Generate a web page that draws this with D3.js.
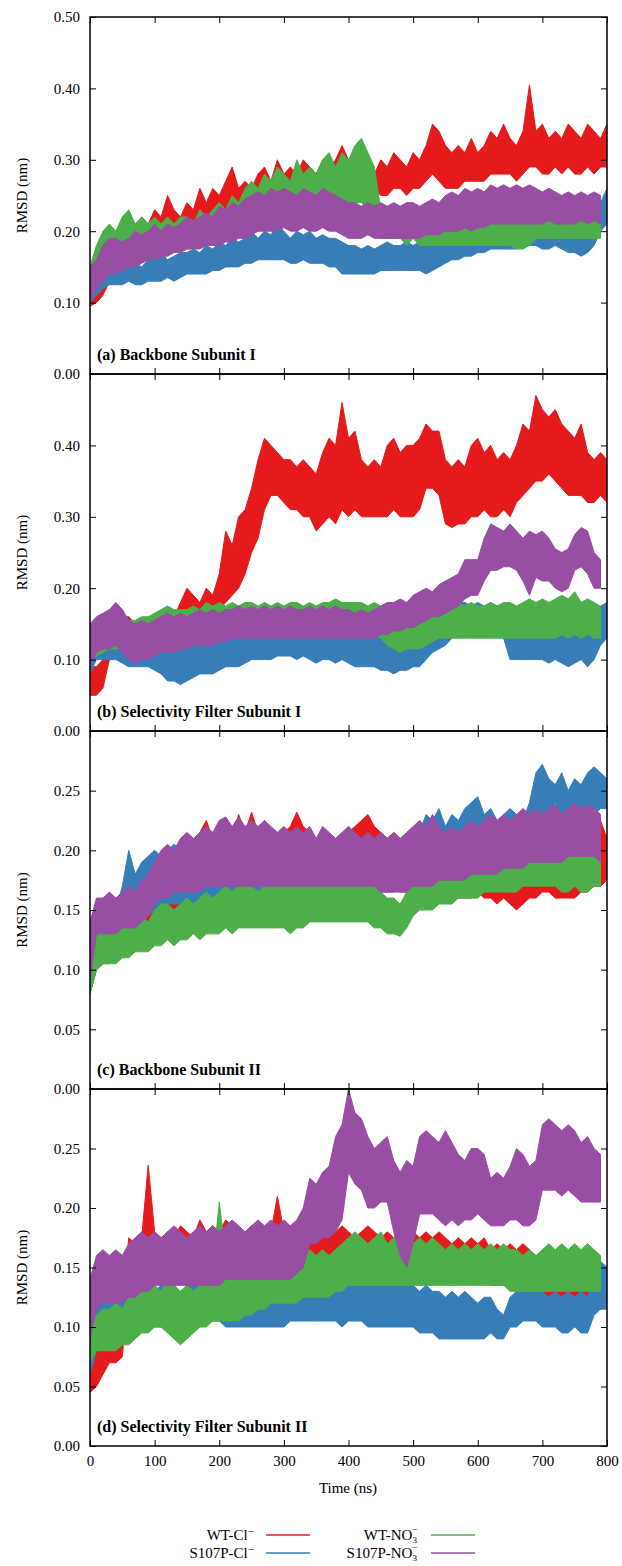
<!DOCTYPE html>
<html>
<head>
<meta charset="utf-8">
<script src="https://cdn.jsdelivr.net/npm/d3@7"></script>
<style>
  body { margin: 0; background: #fff; }
  svg { display: block; }
  svg text { font-family: "Liberation Serif", "Times New Roman", "DejaVu Serif", serif !important; }
</style>
</head>
<body>
<div id="chart"></div>
<script>
const step = 10;
const xTicks = [0, 100, 200, 300, 400, 500, 600, 700, 800];
const yTicksWide = [0, 0.1, 0.2, 0.3, 0.4, 0.5];
const yTicksNarrow = [0, 0.05, 0.1, 0.15, 0.2, 0.25, 0.3];
const seriesNames = ["WT-Cl", "S107P-Cl", "WT-NO", "S107P-NO"];
const panelTitles = ["(a) Backbone Subunit I", "(b) Selectivity Filter Subunit I",
                     "(c) Backbone Subunit II", "(d) Selectivity Filter Subunit II"];

// (a) Backbone Subunit I
const a_wtCl_hi = [0.14,0.15,0.16,0.17,0.19,0.20,0.21,0.20,0.22,0.21, 0.23,0.22,0.25,0.23,0.22,0.24,0.23,0.26,0.24,0.26, 0.25,0.27,0.29,0.26,0.27,0.26,0.28,0.29,0.27,0.30, 0.28,0.29,0.28,0.30,0.29,0.28,0.30,0.29,0.30,0.32, 0.30,0.29,0.30,0.29,0.28,0.30,0.29,0.31,0.30,0.29, 0.31,0.30,0.32,0.35,0.34,0.32,0.31,0.32,0.31,0.33, 0.31,0.32,0.34,0.33,0.35,0.33,0.32,0.34,0.405,0.34, 0.35,0.33,0.34,0.33,0.35,0.34,0.33,0.35,0.34,0.33, 0.35];
const a_wtCl_lo = [0.095,0.10,0.11,0.13,0.14,0.15,0.16,0.17,0.17,0.18, 0.18,0.19,0.19,0.20,0.19,0.20,0.20,0.21,0.20,0.21, 0.22,0.22,0.23,0.22,0.23,0.23,0.24,0.24,0.24,0.25, 0.25,0.25,0.25,0.26,0.25,0.25,0.26,0.25,0.26,0.26, 0.26,0.25,0.25,0.25,0.26,0.25,0.25,0.26,0.26,0.25, 0.26,0.26,0.27,0.28,0.27,0.26,0.26,0.26,0.27,0.27, 0.27,0.27,0.28,0.28,0.28,0.28,0.27,0.28,0.29,0.29, 0.28,0.28,0.29,0.28,0.29,0.28,0.28,0.29,0.28,0.29, 0.29];
const a_s107pCl_hi = [0.13,0.15,0.16,0.16,0.16,0.155,0.16,0.155,0.15,0.16, 0.16,0.17,0.16,0.165,0.17,0.17,0.175,0.17,0.18,0.175, 0.185,0.18,0.19,0.185,0.19,0.20,0.19,0.20,0.195,0.21, 0.20,0.19,0.20,0.195,0.20,0.19,0.195,0.19,0.19,0.185, 0.18,0.18,0.175,0.18,0.175,0.18,0.185,0.18,0.18,0.185, 0.18,0.185,0.19,0.185,0.19,0.19,0.20,0.195,0.20,0.205, 0.21,0.215,0.21,0.22,0.215,0.21,0.215,0.22,0.22,0.225, 0.22,0.22,0.225,0.22,0.215,0.21,0.21,0.215,0.22,0.24, 0.26];
const a_s107pCl_lo = [0.10,0.11,0.12,0.125,0.125,0.125,0.13,0.125,0.125,0.13, 0.13,0.13,0.135,0.13,0.135,0.14,0.14,0.14,0.14,0.145, 0.145,0.15,0.15,0.15,0.155,0.155,0.16,0.16,0.16,0.16, 0.16,0.155,0.155,0.16,0.155,0.155,0.155,0.15,0.15,0.14, 0.14,0.14,0.14,0.14,0.14,0.145,0.145,0.145,0.145,0.145, 0.145,0.145,0.14,0.145,0.15,0.155,0.16,0.16,0.165,0.165, 0.17,0.17,0.175,0.175,0.175,0.175,0.175,0.18,0.18,0.18, 0.175,0.175,0.18,0.175,0.17,0.17,0.165,0.17,0.18,0.20, 0.21];
const a_wtNO3_hi = [0.15,0.18,0.20,0.21,0.20,0.22,0.23,0.21,0.22,0.21, 0.22,0.21,0.22,0.21,0.22,0.22,0.21,0.23,0.22,0.23, 0.24,0.23,0.25,0.24,0.26,0.27,0.26,0.28,0.27,0.29, 0.28,0.27,0.30,0.28,0.29,0.28,0.30,0.31,0.29,0.31, 0.30,0.32,0.33,0.31,0.29,0.23,0.22,0.23,0.22,0.22, 0.23,0.22,0.22,0.23,0.21,0.22,0.22,0.21,0.22,0.23, 0.22,0.23,0.22,0.22,0.23,0.22,0.22,0.21,0.23,0.24, 0.23,0.24,0.23,0.24,0.23,0.24,0.23,0.24,0.23,0.22];
const a_wtNO3_lo = [0.12,0.14,0.16,0.17,0.17,0.18,0.18,0.18,0.18,0.18, 0.18,0.18,0.19,0.19,0.19,0.19,0.19,0.19,0.19,0.19, 0.19,0.20,0.20,0.20,0.21,0.21,0.21,0.22,0.22,0.22, 0.22,0.22,0.23,0.23,0.23,0.24,0.24,0.24,0.24,0.24, 0.23,0.24,0.24,0.23,0.22,0.19,0.19,0.19,0.19,0.18, 0.19,0.18,0.18,0.18,0.18,0.18,0.18,0.18,0.18,0.18, 0.18,0.18,0.18,0.18,0.18,0.18,0.175,0.175,0.18,0.19, 0.19,0.19,0.19,0.19,0.19,0.19,0.19,0.19,0.19,0.19];
const a_s107pNO3_hi = [0.15,0.16,0.18,0.19,0.19,0.185,0.19,0.20,0.195,0.20, 0.21,0.20,0.21,0.205,0.21,0.22,0.215,0.22,0.225,0.22, 0.235,0.23,0.24,0.235,0.245,0.25,0.255,0.25,0.26,0.255, 0.26,0.255,0.25,0.26,0.255,0.25,0.26,0.255,0.25,0.245, 0.24,0.24,0.235,0.24,0.235,0.24,0.235,0.24,0.235,0.24, 0.24,0.235,0.24,0.245,0.24,0.25,0.255,0.25,0.26,0.255, 0.26,0.255,0.265,0.26,0.265,0.26,0.265,0.26,0.265,0.26, 0.255,0.26,0.255,0.25,0.255,0.25,0.255,0.25,0.255,0.25];
const a_s107pNO3_lo = [0.10,0.12,0.13,0.14,0.14,0.145,0.15,0.15,0.155,0.16, 0.16,0.165,0.165,0.17,0.17,0.175,0.175,0.175,0.18,0.18, 0.18,0.185,0.185,0.19,0.19,0.195,0.20,0.20,0.20,0.20, 0.205,0.20,0.20,0.205,0.20,0.20,0.205,0.20,0.20,0.195, 0.19,0.19,0.19,0.195,0.19,0.19,0.19,0.19,0.19,0.19, 0.19,0.19,0.195,0.195,0.195,0.20,0.20,0.20,0.205,0.20, 0.205,0.205,0.21,0.21,0.21,0.21,0.21,0.21,0.21,0.21, 0.21,0.215,0.21,0.21,0.21,0.21,0.215,0.21,0.215,0.21];

// (b) Selectivity Filter Subunit I
const b_wtCl_hi = [0.09,0.09,0.10,0.13,0.15,0.16,0.16,0.15,0.15,0.15, 0.15,0.15,0.15,0.16,0.18,0.20,0.19,0.18,0.20,0.19, 0.22,0.28,0.26,0.30,0.31,0.34,0.38,0.41,0.40,0.39, 0.38,0.38,0.37,0.38,0.37,0.36,0.39,0.41,0.40,0.46, 0.41,0.42,0.38,0.37,0.38,0.37,0.40,0.41,0.39,0.40, 0.40,0.41,0.43,0.42,0.42,0.38,0.37,0.38,0.37,0.40, 0.41,0.39,0.40,0.38,0.39,0.38,0.40,0.43,0.42,0.47, 0.45,0.44,0.45,0.43,0.42,0.41,0.43,0.39,0.38,0.39, 0.38];
const b_wtCl_lo = [0.05,0.05,0.06,0.10,0.12,0.12,0.12,0.12,0.12,0.12, 0.12,0.12,0.12,0.13,0.15,0.16,0.16,0.16,0.16,0.16, 0.17,0.18,0.19,0.20,0.22,0.25,0.27,0.31,0.33,0.33, 0.32,0.31,0.31,0.30,0.30,0.28,0.29,0.30,0.29,0.31, 0.30,0.31,0.30,0.30,0.30,0.30,0.30,0.31,0.30,0.30, 0.30,0.31,0.34,0.34,0.33,0.29,0.285,0.29,0.29,0.30, 0.30,0.31,0.30,0.30,0.31,0.30,0.32,0.33,0.34,0.35, 0.35,0.36,0.35,0.34,0.33,0.33,0.33,0.32,0.32,0.33, 0.32];
const b_s107pCl_hi = [0.14,0.15,0.15,0.15,0.16,0.14,0.135,0.135,0.13,0.13, 0.13,0.125,0.12,0.115,0.12,0.115,0.12,0.125,0.13,0.125, 0.13,0.135,0.14,0.14,0.145,0.145,0.15,0.15,0.155,0.16, 0.17,0.16,0.16,0.16,0.155,0.16,0.165,0.16,0.165,0.16, 0.14,0.135,0.135,0.14,0.135,0.13,0.13,0.13,0.125,0.13, 0.135,0.14,0.15,0.16,0.165,0.17,0.175,0.18,0.18,0.175, 0.18,0.175,0.18,0.175,0.17,0.14,0.135,0.14,0.145,0.14, 0.145,0.15,0.145,0.15,0.155,0.15,0.155,0.16,0.165,0.175, 0.18];
const b_s107pCl_lo = [0.08,0.10,0.10,0.10,0.10,0.095,0.09,0.09,0.09,0.09, 0.085,0.08,0.07,0.07,0.065,0.07,0.075,0.08,0.08,0.08, 0.085,0.09,0.09,0.09,0.095,0.10,0.10,0.10,0.10,0.105, 0.105,0.105,0.10,0.105,0.10,0.095,0.10,0.10,0.095,0.10, 0.095,0.09,0.09,0.09,0.09,0.085,0.085,0.08,0.085,0.085, 0.09,0.09,0.10,0.11,0.115,0.12,0.13,0.135,0.135,0.14, 0.14,0.135,0.14,0.14,0.13,0.10,0.10,0.10,0.10,0.10, 0.10,0.095,0.10,0.095,0.09,0.095,0.10,0.09,0.10,0.12, 0.13];
const b_wtNO3_hi = [0.14,0.15,0.155,0.16,0.155,0.16,0.155,0.155,0.16,0.16, 0.165,0.17,0.175,0.17,0.17,0.17,0.175,0.17,0.18,0.175, 0.18,0.175,0.18,0.175,0.18,0.18,0.175,0.18,0.175,0.18, 0.175,0.18,0.18,0.175,0.18,0.175,0.18,0.18,0.185,0.18, 0.18,0.18,0.18,0.175,0.18,0.175,0.165,0.16,0.165,0.165, 0.17,0.17,0.175,0.17,0.18,0.175,0.18,0.18,0.175,0.18, 0.175,0.175,0.18,0.175,0.18,0.18,0.175,0.18,0.185,0.18, 0.185,0.18,0.185,0.19,0.185,0.195,0.18,0.185,0.18,0.175];
const b_wtNO3_lo = [0.10,0.105,0.11,0.115,0.115,0.115,0.115,0.115,0.115,0.12, 0.12,0.125,0.125,0.13,0.13,0.13,0.13,0.13,0.13,0.135, 0.135,0.135,0.14,0.14,0.14,0.14,0.14,0.14,0.14,0.14, 0.14,0.14,0.14,0.14,0.14,0.14,0.14,0.14,0.14,0.14, 0.135,0.135,0.135,0.135,0.135,0.13,0.12,0.115,0.11,0.115, 0.115,0.115,0.12,0.125,0.13,0.13,0.13,0.13,0.13,0.13, 0.13,0.13,0.13,0.13,0.13,0.13,0.13,0.13,0.13,0.13, 0.13,0.13,0.13,0.135,0.13,0.135,0.13,0.135,0.13,0.13];
const b_s107pNO3_hi = [0.15,0.16,0.165,0.17,0.18,0.17,0.155,0.15,0.155,0.15, 0.155,0.16,0.165,0.16,0.165,0.16,0.165,0.17,0.165,0.17, 0.165,0.17,0.17,0.175,0.17,0.175,0.17,0.175,0.17,0.175, 0.17,0.175,0.17,0.17,0.175,0.17,0.175,0.17,0.175,0.17, 0.17,0.165,0.17,0.165,0.17,0.175,0.18,0.18,0.185,0.18, 0.19,0.195,0.20,0.195,0.205,0.21,0.215,0.22,0.24,0.24, 0.24,0.27,0.29,0.285,0.28,0.29,0.28,0.27,0.28,0.275, 0.28,0.27,0.255,0.25,0.255,0.275,0.285,0.28,0.25,0.24];
const b_s107pNO3_lo = [0.09,0.11,0.115,0.115,0.12,0.11,0.10,0.095,0.10,0.10, 0.105,0.11,0.11,0.11,0.115,0.115,0.12,0.12,0.12,0.12, 0.125,0.125,0.13,0.13,0.13,0.13,0.13,0.13,0.13,0.13, 0.13,0.13,0.13,0.13,0.13,0.13,0.13,0.13,0.13,0.13, 0.13,0.13,0.13,0.13,0.13,0.135,0.135,0.14,0.14,0.145, 0.145,0.15,0.155,0.16,0.16,0.165,0.17,0.175,0.185,0.19, 0.19,0.21,0.225,0.225,0.23,0.23,0.225,0.21,0.19,0.215, 0.21,0.21,0.20,0.195,0.20,0.225,0.23,0.22,0.20,0.20];

// (c) Backbone Subunit II
const c_wtCl_hi = [0.12,0.13,0.135,0.14,0.14,0.145,0.145,0.15,0.16,0.165, 0.17,0.175,0.18,0.185,0.19,0.20,0.19,0.215,0.225,0.21, 0.215,0.22,0.21,0.23,0.215,0.232,0.215,0.225,0.215,0.21, 0.215,0.22,0.232,0.22,0.215,0.21,0.215,0.21,0.205,0.21, 0.215,0.22,0.225,0.23,0.22,0.215,0.21,0.215,0.21,0.205, 0.20,0.205,0.20,0.195,0.20,0.195,0.19,0.195,0.19,0.195, 0.19,0.195,0.19,0.185,0.19,0.195,0.19,0.19,0.195,0.19, 0.195,0.19,0.19,0.195,0.19,0.19,0.195,0.19,0.23,0.225, 0.21];
const c_wtCl_lo = [0.08,0.10,0.105,0.105,0.11,0.11,0.115,0.115,0.12,0.125, 0.13,0.135,0.14,0.145,0.15,0.155,0.16,0.165,0.16,0.158, 0.16,0.158,0.16,0.162,0.158,0.16,0.162,0.165,0.165,0.165, 0.165,0.165,0.17,0.17,0.17,0.165,0.17,0.165,0.17,0.17, 0.175,0.175,0.175,0.175,0.17,0.17,0.17,0.17,0.165,0.165, 0.165,0.165,0.165,0.165,0.165,0.165,0.16,0.16,0.16,0.16, 0.165,0.16,0.16,0.155,0.16,0.155,0.15,0.155,0.16,0.16, 0.165,0.165,0.16,0.16,0.16,0.16,0.165,0.165,0.17,0.17, 0.175];
const c_s107pCl_hi = [0.12,0.13,0.135,0.14,0.15,0.17,0.20,0.18,0.19,0.195, 0.20,0.195,0.20,0.205,0.20,0.205,0.20,0.205,0.20,0.205, 0.20,0.205,0.20,0.205,0.20,0.205,0.20,0.205,0.20,0.205, 0.20,0.205,0.20,0.205,0.20,0.205,0.20,0.205,0.20,0.205, 0.20,0.205,0.20,0.205,0.20,0.205,0.21,0.205,0.21,0.205, 0.21,0.215,0.23,0.225,0.235,0.22,0.23,0.225,0.235,0.24, 0.245,0.23,0.235,0.225,0.23,0.235,0.23,0.225,0.24,0.265, 0.272,0.26,0.255,0.265,0.25,0.26,0.255,0.265,0.27,0.265, 0.26];
const c_s107pCl_lo = [0.08,0.10,0.105,0.11,0.115,0.125,0.13,0.135,0.14,0.145, 0.15,0.15,0.155,0.155,0.155,0.155,0.155,0.155,0.16,0.16, 0.16,0.16,0.16,0.16,0.16,0.16,0.16,0.16,0.16,0.16, 0.16,0.16,0.165,0.165,0.165,0.165,0.165,0.165,0.165,0.165, 0.165,0.165,0.165,0.165,0.165,0.165,0.165,0.165,0.17,0.17, 0.17,0.175,0.18,0.18,0.18,0.185,0.185,0.185,0.19,0.19, 0.19,0.19,0.19,0.19,0.19,0.195,0.195,0.195,0.20,0.225, 0.225,0.22,0.215,0.215,0.22,0.22,0.225,0.225,0.23,0.235, 0.235];
const c_wtNO3_hi = [0.12,0.13,0.135,0.135,0.135,0.14,0.14,0.14,0.145,0.14, 0.15,0.155,0.155,0.15,0.155,0.16,0.155,0.16,0.165,0.16, 0.165,0.17,0.165,0.17,0.175,0.17,0.165,0.17,0.175,0.17, 0.175,0.17,0.175,0.17,0.175,0.17,0.17,0.175,0.17,0.175, 0.175,0.17,0.175,0.17,0.17,0.165,0.16,0.16,0.155,0.165, 0.18,0.185,0.19,0.185,0.19,0.195,0.19,0.195,0.19,0.195, 0.195,0.20,0.195,0.20,0.20,0.195,0.20,0.205,0.20,0.205, 0.21,0.21,0.24,0.205,0.21,0.205,0.21,0.205,0.21,0.205];
const c_wtNO3_lo = [0.08,0.10,0.105,0.105,0.105,0.11,0.11,0.115,0.115,0.115, 0.12,0.12,0.125,0.12,0.125,0.125,0.13,0.125,0.13,0.13, 0.13,0.135,0.13,0.135,0.135,0.135,0.135,0.135,0.135,0.135, 0.135,0.13,0.135,0.135,0.14,0.14,0.14,0.14,0.14,0.14, 0.14,0.14,0.14,0.14,0.135,0.135,0.13,0.13,0.128,0.135, 0.145,0.15,0.15,0.15,0.155,0.155,0.155,0.16,0.16,0.16, 0.16,0.165,0.165,0.165,0.165,0.165,0.165,0.17,0.17,0.17, 0.17,0.17,0.17,0.165,0.165,0.17,0.165,0.165,0.17,0.17];
const c_s107pNO3_hi = [0.14,0.16,0.16,0.165,0.16,0.165,0.17,0.165,0.175,0.18, 0.19,0.20,0.205,0.20,0.21,0.215,0.21,0.215,0.22,0.215, 0.225,0.228,0.22,0.228,0.22,0.225,0.22,0.225,0.22,0.215, 0.22,0.215,0.22,0.215,0.22,0.21,0.22,0.215,0.21,0.215, 0.22,0.215,0.21,0.215,0.21,0.215,0.21,0.215,0.21,0.215, 0.22,0.225,0.22,0.23,0.22,0.215,0.22,0.215,0.22,0.225, 0.22,0.225,0.23,0.225,0.23,0.225,0.23,0.235,0.23,0.235, 0.23,0.235,0.238,0.23,0.235,0.24,0.235,0.238,0.235,0.23];
const c_s107pNO3_lo = [0.09,0.13,0.13,0.13,0.13,0.135,0.135,0.135,0.14,0.145, 0.155,0.16,0.16,0.165,0.165,0.165,0.165,0.165,0.17,0.17, 0.17,0.17,0.17,0.17,0.17,0.17,0.17,0.17,0.17,0.17, 0.17,0.17,0.17,0.17,0.17,0.17,0.17,0.17,0.17,0.17, 0.17,0.17,0.17,0.17,0.17,0.165,0.165,0.165,0.165,0.165, 0.17,0.17,0.17,0.17,0.175,0.175,0.175,0.175,0.175,0.18, 0.18,0.18,0.18,0.18,0.185,0.185,0.185,0.185,0.19,0.19, 0.19,0.19,0.19,0.19,0.195,0.195,0.195,0.195,0.195,0.19];

// (d) Selectivity Filter Subunit II
const d_wtCl_hi = [0.07,0.085,0.095,0.11,0.115,0.12,0.175,0.17,0.175,0.236, 0.18,0.175,0.18,0.175,0.185,0.18,0.175,0.19,0.18,0.185, 0.18,0.19,0.185,0.175,0.18,0.185,0.18,0.175,0.18,0.21, 0.18,0.185,0.18,0.185,0.18,0.175,0.185,0.19,0.18,0.185, 0.18,0.175,0.18,0.185,0.18,0.175,0.18,0.175,0.18,0.175, 0.18,0.175,0.18,0.175,0.18,0.175,0.17,0.175,0.17,0.175, 0.17,0.175,0.165,0.17,0.165,0.17,0.165,0.17,0.165,0.16, 0.155,0.15,0.155,0.15,0.145,0.14,0.145,0.14,0.16,0.155, 0.15];
const d_wtCl_lo = [0.045,0.05,0.06,0.07,0.07,0.075,0.14,0.14,0.14,0.14, 0.14,0.14,0.14,0.14,0.14,0.145,0.14,0.145,0.145,0.14, 0.145,0.145,0.145,0.145,0.14,0.145,0.145,0.15,0.145,0.15, 0.15,0.15,0.15,0.15,0.15,0.15,0.15,0.15,0.15,0.15, 0.15,0.15,0.15,0.15,0.15,0.15,0.145,0.145,0.145,0.145, 0.145,0.145,0.145,0.145,0.14,0.14,0.14,0.14,0.14,0.14, 0.14,0.14,0.135,0.135,0.135,0.135,0.135,0.13,0.13,0.13, 0.125,0.12,0.12,0.12,0.12,0.12,0.12,0.12,0.115,0.115, 0.12];
const d_s107pCl_hi = [0.11,0.12,0.125,0.13,0.125,0.13,0.13,0.135,0.13,0.135, 0.13,0.135,0.14,0.135,0.13,0.135,0.14,0.135,0.14,0.135, 0.135,0.13,0.135,0.13,0.135,0.135,0.14,0.135,0.14,0.135, 0.14,0.135,0.14,0.135,0.14,0.135,0.14,0.135,0.14,0.135, 0.14,0.135,0.14,0.135,0.14,0.135,0.14,0.135,0.14,0.135, 0.135,0.13,0.135,0.13,0.13,0.125,0.13,0.125,0.13,0.125, 0.12,0.125,0.125,0.115,0.11,0.125,0.13,0.135,0.13,0.135, 0.13,0.125,0.13,0.125,0.13,0.125,0.13,0.125,0.15,0.155, 0.15];
const d_s107pCl_lo = [0.06,0.08,0.085,0.095,0.10,0.10,0.10,0.10,0.10,0.10, 0.10,0.10,0.10,0.10,0.105,0.105,0.105,0.105,0.105,0.105, 0.105,0.10,0.10,0.10,0.10,0.10,0.10,0.10,0.10,0.10, 0.10,0.105,0.105,0.105,0.105,0.105,0.105,0.105,0.105,0.10, 0.105,0.105,0.105,0.10,0.10,0.10,0.10,0.10,0.10,0.10, 0.10,0.095,0.095,0.095,0.09,0.09,0.09,0.09,0.09,0.09, 0.09,0.09,0.095,0.09,0.09,0.10,0.10,0.105,0.105,0.105, 0.10,0.10,0.10,0.095,0.095,0.10,0.095,0.095,0.11,0.115, 0.115];
const d_wtNO3_hi = [0.11,0.11,0.115,0.115,0.12,0.115,0.125,0.13,0.135,0.13, 0.135,0.13,0.14,0.135,0.13,0.135,0.13,0.135,0.14,0.15, 0.205,0.16,0.15,0.145,0.15,0.145,0.155,0.15,0.155,0.15, 0.155,0.16,0.155,0.16,0.165,0.16,0.165,0.16,0.165,0.17, 0.175,0.18,0.175,0.17,0.175,0.18,0.17,0.175,0.17,0.175, 0.17,0.175,0.17,0.175,0.17,0.165,0.17,0.165,0.17,0.165, 0.17,0.165,0.17,0.165,0.17,0.165,0.165,0.16,0.165,0.16, 0.165,0.17,0.165,0.17,0.165,0.17,0.165,0.17,0.165,0.16];
const d_wtNO3_lo = [0.07,0.08,0.08,0.08,0.08,0.085,0.085,0.09,0.095,0.095, 0.10,0.10,0.095,0.09,0.085,0.09,0.095,0.10,0.10,0.105, 0.105,0.105,0.105,0.105,0.11,0.11,0.115,0.115,0.12,0.12, 0.12,0.12,0.12,0.125,0.125,0.125,0.125,0.125,0.13,0.13, 0.135,0.135,0.135,0.135,0.135,0.135,0.135,0.135,0.135,0.135, 0.135,0.135,0.135,0.135,0.135,0.135,0.135,0.135,0.135,0.135, 0.135,0.135,0.135,0.135,0.135,0.13,0.13,0.13,0.13,0.13, 0.13,0.13,0.13,0.13,0.13,0.13,0.13,0.13,0.13,0.13];
const d_s107pNO3_hi = [0.14,0.16,0.165,0.16,0.165,0.16,0.17,0.175,0.18,0.175, 0.18,0.175,0.18,0.185,0.18,0.175,0.18,0.185,0.18,0.185, 0.18,0.185,0.19,0.185,0.18,0.185,0.19,0.185,0.19,0.185, 0.19,0.185,0.19,0.20,0.225,0.22,0.23,0.235,0.26,0.27, 0.30,0.28,0.275,0.26,0.25,0.255,0.26,0.24,0.23,0.24, 0.235,0.26,0.265,0.26,0.255,0.265,0.255,0.245,0.24,0.25, 0.25,0.245,0.225,0.23,0.225,0.235,0.25,0.245,0.235,0.24, 0.27,0.275,0.27,0.265,0.27,0.265,0.255,0.26,0.25,0.245];
const d_s107pNO3_lo = [0.09,0.115,0.12,0.12,0.12,0.12,0.125,0.125,0.13,0.13, 0.135,0.135,0.135,0.135,0.135,0.135,0.135,0.135,0.135,0.135, 0.135,0.14,0.14,0.14,0.14,0.14,0.14,0.14,0.14,0.14, 0.14,0.14,0.145,0.15,0.17,0.17,0.175,0.175,0.18,0.19, 0.23,0.22,0.215,0.20,0.20,0.205,0.205,0.18,0.16,0.15, 0.17,0.195,0.195,0.195,0.19,0.185,0.19,0.185,0.19,0.19, 0.195,0.19,0.185,0.185,0.185,0.19,0.19,0.185,0.185,0.19, 0.215,0.215,0.215,0.21,0.215,0.21,0.205,0.205,0.205,0.205];

const colors = ["#e41a1c", "#377eb8", "#4daf4a", "#984ea3"];
const FONT = '"Liberation Serif", "Times New Roman", "DejaVu Serif", serif';

const panels = [
  { top: 17, bottom: 374, max: 0.5, ticks: yTicksWide, hide: [],
    bands: [[a_wtCl_lo, a_wtCl_hi], [a_s107pCl_lo, a_s107pCl_hi], [a_wtNO3_lo, a_wtNO3_hi], [a_s107pNO3_lo, a_s107pNO3_hi]] },
  { top: 374, bottom: 731, max: 0.5, ticks: yTicksWide, hide: [0.5],
    bands: [[b_wtCl_lo, b_wtCl_hi], [b_s107pCl_lo, b_s107pCl_hi], [b_wtNO3_lo, b_wtNO3_hi], [b_s107pNO3_lo, b_s107pNO3_hi]] },
  { top: 731, bottom: 1089, max: 0.3, ticks: yTicksNarrow, hide: [0.3],
    bands: [[c_wtCl_lo, c_wtCl_hi], [c_s107pCl_lo, c_s107pCl_hi], [c_wtNO3_lo, c_wtNO3_hi], [c_s107pNO3_lo, c_s107pNO3_hi]] },
  { top: 1089, bottom: 1446, max: 0.3, ticks: yTicksNarrow, hide: [0.3],
    bands: [[d_wtCl_lo, d_wtCl_hi], [d_s107pCl_lo, d_s107pCl_hi], [d_wtNO3_lo, d_wtNO3_hi], [d_s107pNO3_lo, d_s107pNO3_hi]] }
];

const svg = d3.select("#chart").append("svg").attr("width", 622).attr("height", 1566);
const x = d3.scaleLinear().domain([0, 800]).range([90, 607]);
const fmt = d3.format(".2f");

function tidy(sel, showText) {
  sel.attr("font-family", FONT).attr("font-size", 15);
  sel.select(".domain").remove();
  sel.selectAll(".tick line").attr("stroke", "#000");
  sel.selectAll(".tick text").attr("fill", "#000");
  if (!showText) sel.selectAll(".tick text").remove();
}

panels.forEach((p, i) => {
  const y = d3.scaleLinear().domain([0, p.max]).range([p.bottom, p.top]);
  const g = svg.append("g");

  g.append("clipPath").attr("id", "clip" + i)
    .append("rect").attr("x", 90).attr("y", p.top).attr("width", 517).attr("height", p.bottom - p.top);

  const area = d3.area().x(d => x(d.t)).y0(d => y(d.lo)).y1(d => y(d.hi));
  const data = g.append("g").attr("clip-path", `url(#clip${i})`);
  p.bands.forEach(([lo, hi], k) => {
    const pts = lo.map((v, j) => ({ t: j * step, lo: v, hi: hi[j] }));
    data.append("path").attr("d", area(pts))
      .attr("fill", colors[k]).attr("stroke", colors[k]).attr("stroke-width", 1);
  });

  g.append("g").attr("transform", "translate(90,0)")
    .call(d3.axisLeft(y).tickValues(p.ticks).tickSize(-6).tickPadding(10)
      .tickFormat(d => p.hide.includes(d) ? "" : fmt(d)))
    .call(s => tidy(s, true));
  g.append("g").attr("transform", "translate(607,0)")
    .call(d3.axisRight(y).tickValues(p.ticks).tickSize(-6))
    .call(s => tidy(s, false));
  g.append("g").attr("transform", `translate(0,${p.top})`)
    .call(d3.axisTop(x).tickValues(xTicks).tickSize(-6))
    .call(s => tidy(s, false));
  g.append("g").attr("transform", `translate(0,${p.bottom})`)
    .call(d3.axisBottom(x).tickValues(xTicks).tickSize(-6).tickPadding(9))
    .call(s => tidy(s, i === panels.length - 1));

  g.append("rect").attr("x", 90).attr("y", p.top).attr("width", 517).attr("height", p.bottom - p.top)
    .attr("fill", "none").attr("stroke", "#000").attr("stroke-width", 1.5);

  g.append("text").attr("x", 97).attr("y", p.bottom - 14)
    .attr("font-size", 16).attr("font-weight", "bold")
    .text(panelTitles[i]);

  g.append("text")
    .attr("transform", `translate(27,${(p.top + p.bottom) / 2}) rotate(-90)`)
    .attr("text-anchor", "middle").attr("font-size", 15)
    .text("RMSD (nm)");
});

svg.append("text").attr("x", 348).attr("y", 1493).attr("text-anchor", "middle")
  .attr("font-size", 15).text("Time (ns)");

// legend: two columns, two rows
const legendPos = [
  { tx: 254, lx: 266, y: 1535 }, { tx: 254, lx: 266, y: 1553 },
  { tx: 417, lx: 431, y: 1535 }, { tx: 417, lx: 431, y: 1553 }
];
seriesNames.forEach((name, k) => {
  const pos = legendPos[k];
  const t = svg.append("text").attr("x", pos.tx).attr("y", pos.y + 5)
    .attr("text-anchor", "end").attr("font-size", 15);
  t.append("tspan").text(name);
  if (k < 2) {
    t.append("tspan").attr("font-size", 11).attr("dy", -5).text("−");
  } else {
    t.append("tspan").attr("font-size", 9).attr("dy", 3).text("3");
    t.append("tspan").attr("font-size", 9).attr("dx", -5).attr("dy", -11).text("−");
  }
  svg.append("line").attr("x1", pos.lx).attr("x2", pos.lx + 44)
    .attr("y1", pos.y).attr("y2", pos.y)
    .attr("stroke", colors[k]).attr("stroke-width", 1.5);
});
</script>
</body>
</html>
